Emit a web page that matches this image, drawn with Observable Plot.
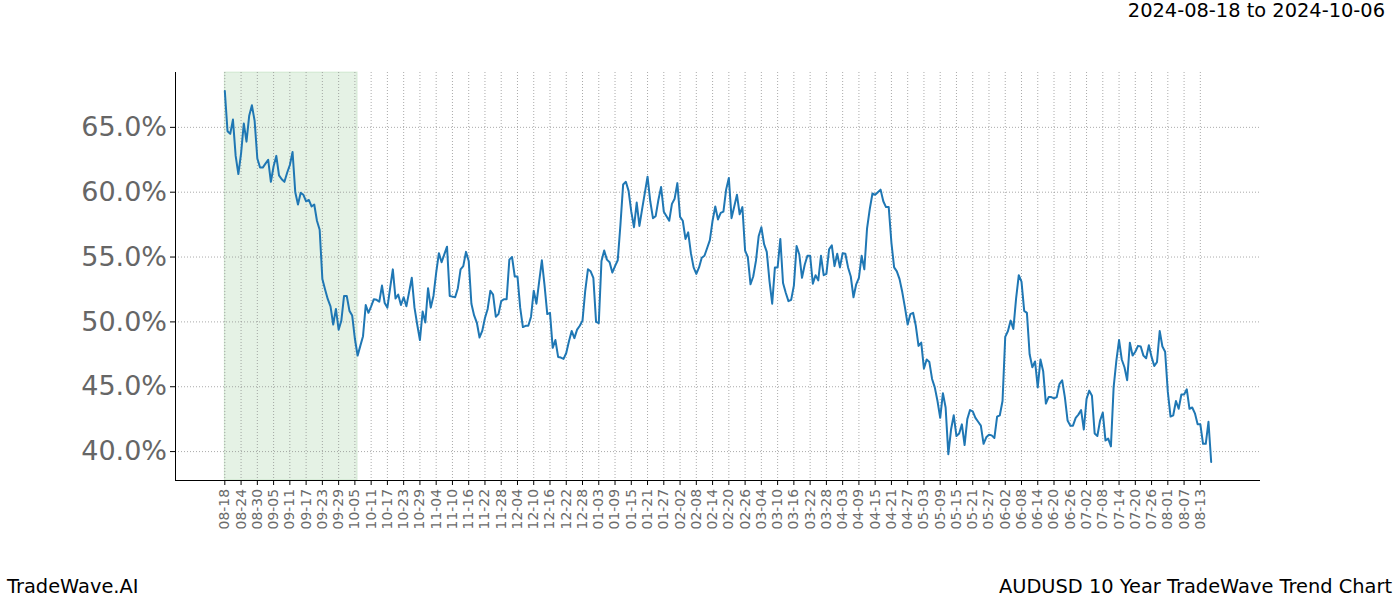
<!DOCTYPE html>
<html><head><meta charset="utf-8">
<script src="https://cdn.jsdelivr.net/npm/d3@7"></script>
<script src="https://cdn.jsdelivr.net/npm/@observablehq/plot@0.6"></script>
<style>
body{margin:0;background:#fff;font-family:"DejaVu Sans",sans-serif;}
#wrap{position:relative;width:1400px;height:600px;overflow:hidden;}
#chart{position:absolute;left:0;top:0;}
.t{position:absolute;font-size:19.4px;line-height:1.164;color:#000;white-space:nowrap;font-family:"DejaVu Sans",sans-serif;}
</style></head><body>
<div id="wrap">
<div id="chart"></div>
<div class="t" style="right:15px;top:0px;">2024-08-18 to 2024-10-06</div>
<div class="t" style="left:7px;top:576px;">TradeWave.AI</div>
<div class="t" style="right:8px;top:576px;">AUDUSD 10 Year TradeWave Trend Chart</div>
</div>
<script>
// ---- data ----
const startDate = "2022-08-18";           // first daily point
const highlightStart = "2022-08-18";
const highlightEnd = "2022-10-06";
const tickStepDays = 6;
const tickCount = 61;
const yTicks = [40, 45, 50, 55, 60, 65];
const values = [
  67.8, 64.7, 64.5, 65.6, 62.8, 61.4, 63.0, 65.3, 63.9, 65.9,
  66.7, 65.5, 62.6, 61.9, 61.9, 62.2, 62.5, 60.8, 62.0, 62.8,
  61.3, 61.0, 60.8, 61.5, 62.1, 63.1, 60.0, 59.05, 59.95, 59.8,
  59.3, 59.4, 58.9, 59.05, 57.8, 57.1, 53.3, 52.5, 51.75, 51.2,
  49.8, 51.0, 49.4, 50.1, 52.0, 52.0, 50.85, 50.5, 48.7, 47.4,
  48.15, 48.9, 51.3, 50.7, 51.2, 51.75, 51.7, 51.55, 52.8, 51.45,
  51.1, 52.6, 54.05, 51.8, 52.1, 51.3, 51.9, 51.2, 52.3, 53.4,
  51.1, 49.8, 48.6, 50.8, 49.95, 52.6, 51.1, 52.0, 53.8, 55.3,
  54.6, 55.2, 55.8, 52.0, 51.95, 51.9, 52.6, 54.05, 54.3, 55.4,
  54.7, 51.4, 50.5, 49.95, 48.8, 49.3, 50.3, 51.0, 52.4, 52.1,
  50.4, 50.6, 51.6, 51.75, 51.75, 54.8, 55.0, 53.5, 53.5, 51.1,
  49.6, 49.7, 49.7, 50.4, 52.4, 51.4, 53.1, 54.75, 52.8, 50.6,
  50.7, 48.0, 48.6, 47.3, 47.25, 47.15, 47.6, 48.5, 49.3, 48.75,
  49.4, 49.7, 50.1, 52.4, 54.05, 53.9, 53.4, 50.0, 49.9, 54.7,
  55.5, 54.8, 54.6, 53.8, 54.3, 54.75, 57.5, 60.6, 60.8, 60.1,
  58.5, 57.3, 59.2, 57.4, 58.7, 59.95, 61.2, 59.3, 58.0, 58.15,
  59.4, 60.4, 58.5, 58.15, 57.8, 59.1, 59.5, 60.7, 58.1, 57.8,
  56.4, 56.9, 55.3, 54.2, 53.7, 54.2, 54.95, 55.1, 55.7, 56.3,
  57.8, 58.9, 57.9, 58.4, 58.5, 60.2, 61.1, 58.0, 58.9, 59.8,
  58.3, 58.85, 55.5, 55.0, 52.9, 53.5, 54.7, 56.6, 57.3, 56.0,
  55.4, 53.15, 51.4, 54.2, 54.2, 56.4, 53.0, 52.25, 51.6, 51.7,
  52.8, 55.85, 55.2, 53.4, 54.4, 55.1, 55.1, 52.95, 53.6, 53.2,
  55.1, 53.6, 53.7, 55.6, 55.9, 54.3, 55.25, 54.2, 55.3, 55.25,
  54.2, 53.5, 51.9, 52.9, 53.4, 55.1, 54.05, 57.2, 58.7, 59.9,
  59.8, 60.0, 60.2, 59.3, 58.85, 58.85, 56.1, 54.2, 53.9, 53.3,
  52.3, 51.1, 49.8, 50.6, 50.7, 49.7, 48.15, 48.4, 46.4, 47.1,
  46.9, 45.6, 44.95, 43.9, 42.6, 44.5, 43.4, 39.8, 41.7, 42.8,
  41.2, 41.4, 42.1, 40.5, 42.5, 43.2, 43.1, 42.6, 42.3, 42.0,
  40.6, 41.1, 41.3, 41.25, 41.05, 42.7, 42.8, 43.9, 48.85, 49.3,
  50.1, 49.45, 51.8, 53.6, 53.1, 50.85, 50.7, 47.5, 46.5, 46.95,
  44.95, 47.1, 46.2, 43.7, 44.2, 44.2, 44.1, 44.2, 45.2, 45.5,
  44.2, 42.4, 42.0, 42.0, 42.6, 42.85, 43.2, 41.7, 44.05, 44.7,
  44.3, 41.4, 41.2, 42.4, 43.0, 40.85, 41.0, 40.4, 44.95, 47.0,
  48.6, 47.1, 46.5, 45.5, 48.4, 47.4, 47.7, 48.15, 48.1, 47.4,
  47.2, 48.2, 47.3, 46.6, 46.9, 49.3, 48.1, 47.7, 44.6, 42.7,
  42.8, 43.9, 43.3, 44.4, 44.4, 44.8, 43.3, 43.4, 42.95, 42.1,
  42.1, 40.6, 40.6, 42.3, 39.2
];

// ---- derived ----
const start = new Date(startDate + "T00:00:00Z");
const data = values.map((v, i) => ({date: d3.utcDay.offset(start, i), value: v}));
const xTicks = d3.range(tickCount).map(i => d3.utcDay.offset(start, i * tickStepDays));
const n = values.length - 1;
const day = 864e5;
const xPad = n * 0.05;
const x0 = new Date(+start - xPad * day), x1 = new Date(+start + (n + xPad) * day);
const [vmin, vmax] = d3.extent(values);
const yPad = (vmax - vmin) * 0.05;
const y0 = vmin - yPad, y1 = vmax + yPad;
const band = [{x1: new Date(highlightStart + "T00:00:00Z"), x2: new Date(highlightEnd + "T00:00:00Z")}];

const gridStyle = {stroke: "#888", strokeOpacity: 0.9, strokeDasharray: "1,2", strokeWidth: 0.8};

const chart = Plot.plot({
  width: 1400, height: 600,
  marginLeft: 175, marginRight: 140, marginTop: 72, marginBottom: 120,
  style: {fontFamily: "DejaVu Sans", background: "transparent", overflow: "visible"},
  x: {type: "utc", domain: [x0, x1]},
  y: {domain: [y0, y1]},
  marks: [
    Plot.rect(band, {x1: "x1", x2: "x2", fill: "green", fillOpacity: 0.1, stroke: "green", strokeOpacity: 0.12}),
    Plot.gridX(xTicks, gridStyle),
    Plot.gridY(yTicks, gridStyle),
    Plot.axisX(xTicks, {tickFormat: d3.utcFormat("%m-%d"), tickRotate: -90, tickSize: 5, tickPadding: 3.5,
      fontSize: 13.9, fill: "#6a6a6a", stroke: "black", label: null}),
    Plot.axisY(yTicks, {tickFormat: d => d.toFixed(1) + "%", tickSize: 5, tickPadding: 3.5,
      fontSize: 27, fill: "#666", stroke: "black", label: null}),
    Plot.ruleX([x0], {stroke: "black", strokeWidth: 1}),
    Plot.ruleY([y0], {stroke: "black", strokeWidth: 1}),
    Plot.lineY(data, {x: "date", y: "value", stroke: "#1f77b4", strokeWidth: 2})
  ]
});
document.getElementById("chart").appendChild(chart);
</script>
</body></html>
